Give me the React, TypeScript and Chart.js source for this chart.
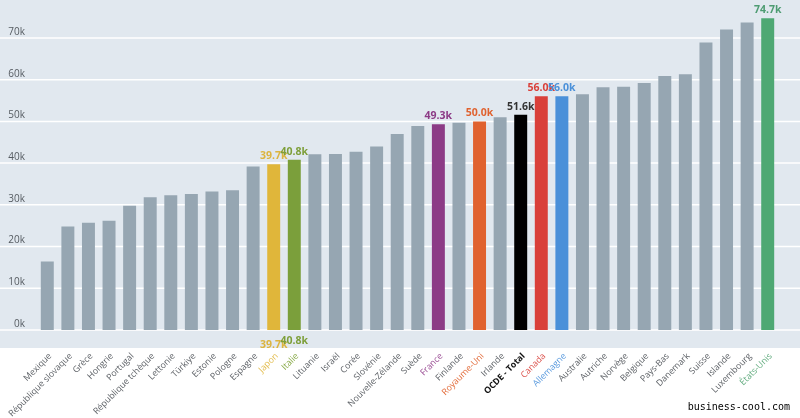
import { useEffect, useRef } from 'react';
import Chart from 'chart.js/auto';

// PIB par habitant (milliers USD)
const countries = [
  'Mexique', 'République slovaque', 'Grèce', 'Hongrie', 'Portugal', 'République tchèque',
  'Lettonie', 'Türkiye', 'Estonie', 'Pologne', 'Espagne', 'Japon', 'Italie', 'Lituanie',
  'Israël', 'Corée', 'Slovénie', 'Nouvelle-Zélande', 'Suède', 'France', 'Finlande',
  'Royaume-Uni', 'Irlande', 'OCDE - Total', 'Canada', 'Allemagne', 'Australie', 'Autriche',
  'Norvège', 'Belgique', 'Pays-Bas', 'Danemark', 'Suisse', 'Islande', 'Luxembourg', 'États-Unis',
];
const values = [
  16.4, 24.8, 25.7, 26.2, 29.8, 31.8, 32.3, 32.6, 33.2, 33.5, 39.2, 39.7, 40.8, 42.1,
  42.2, 42.7, 44.0, 47.0, 48.9, 49.3, 49.7, 50.0, 51.0, 51.6, 56.0, 56.0, 56.5, 58.2,
  58.3, 59.2, 60.9, 61.3, 68.9, 72.0, 73.7, 74.7,
];
const yTicks = [0, 10, 20, 30, 40, 50, 60, 70];

const BAR_GREY = '#96a6b2';
const highlight: Record<string, { bar: string; text: string; label: string }> = {
  'Japon': { bar: '#e0b63a', text: '#dcb43e', label: '#e3bd4f' },
  'Italie': { bar: '#7b9f3b', text: '#7e9f3a', label: '#8aab4a' },
  'France': { bar: '#8c3b86', text: '#8c3b86', label: '#9a4d94' },
  'Royaume-Uni': { bar: '#e0622f', text: '#e0622f', label: '#e36d3c' },
  'OCDE - Total': { bar: '#000000', text: '#333333', label: '#111111' },
  'Canada': { bar: '#d9403a', text: '#d9403a', label: '#dc534d' },
  'Allemagne': { bar: '#4a90d9', text: '#4a90d9', label: '#5a9ade' },
  'États-Unis': { bar: '#4ea873', text: '#4e9c72', label: '#64ad80' },
};
// labels drawn twice in the source picture
const doubled = ['Japon', 'Italie'];

const FONT = '"Open Sans", "Noto Sans", sans-serif';

export default function App() {
  const chartRef = useRef<HTMLCanvasElement>(null);
  const chartInstance = useRef<Chart | null>(null);

  useEffect(() => {
    document.body.style.margin = '0';
    if (!chartRef.current) return;
    const ctx = chartRef.current.getContext('2d');
    if (!ctx) return;

    if (chartInstance.current) {
      chartInstance.current.destroy();
    }

    const backdrop = {
      id: 'backdrop',
      beforeDraw(chart: any) {
        const { ctx: c, chartArea, width, height, scales } = chart;
        c.save();
        c.fillStyle = '#ffffff';
        c.fillRect(0, 0, width, height);
        c.fillStyle = '#e1e8ef';
        c.fillRect(0, 0, width, chartArea.bottom + 18);
        c.strokeStyle = '#ffffff';
        c.lineWidth = 1.5;
        c.fillStyle = '#555b61';
        c.font = `10px ${FONT}`;
        c.textAlign = 'right';
        c.textBaseline = 'middle';
        yTicks.forEach((t) => {
          const y = scales.y.getPixelForValue(t);
          c.beginPath();
          c.moveTo(0, y);
          c.lineTo(width, y);
          c.stroke();
          c.fillText(`${t}k`, 25, y - 6);
        });
        c.restore();
      },
      afterDatasetsDraw(chart: any) {
        const { ctx: c, width, height } = chart;
        const meta = chart.getDatasetMeta(0);
        c.save();
        c.font = `bold 10.5px ${FONT}`;
        c.textAlign = 'center';
        c.textBaseline = 'middle';
        countries.forEach((name, i) => {
          const h = highlight[name];
          if (!h) return;
          const bar = meta.data[i];
          const text = `${values[i].toFixed(1)}k`;
          c.fillStyle = h.text;
          c.fillText(text, bar.x, bar.y - 8);
          if (doubled.includes(name)) {
            c.fillText(text, bar.x, bar.y - 8 + 189);
          }
        });
        c.font = '10px "DejaVu Sans Mono", monospace';
        c.fillStyle = '#000000';
        c.textAlign = 'right';
        c.textBaseline = 'alphabetic';
        c.fillText('business-cool.com', width - 10, height - 8);
        c.restore();
      },
    };

    chartInstance.current = new Chart(ctx, {
      type: 'bar',
      data: {
        labels: countries,
        datasets: [{
          data: values,
          backgroundColor: countries.map((n) => (highlight[n] ? highlight[n].bar : BAR_GREY)),
          barPercentage: 0.63,
          categoryPercentage: 1,
          borderWidth: 0,
        }],
      },
      options: {
        responsive: true,
        maintainAspectRatio: false,
        animation: false,
        layout: { padding: { left: 37, right: 22, top: 0, bottom: 0 } },
        plugins: {
          legend: { display: false },
          tooltip: { enabled: false },
          title: { display: false },
        },
        scales: {
          y: {
            display: false,
            min: 0,
            max: 79.1,
          },
          x: {
            grid: { display: false, drawTicks: false },
            border: { display: false },
            afterFit: (scale: any) => { scale.height = 88; },
            ticks: {
              autoSkip: false,
              maxRotation: 45,
              minRotation: 45,
              padding: 21,
              labelOffset: 3,
              color: (c: any) => {
                const h = highlight[countries[c.index]];
                return h ? h.label : '#5f6368';
              },
              font: (c: any) => ({
                family: FONT,
                size: 8.8,
                weight: countries[c.index] === 'OCDE - Total' ? 'bold' : 'normal',
              }),
            },
          },
        },
      },
      plugins: [backdrop],
    });

    return () => {
      if (chartInstance.current) {
        chartInstance.current.destroy();
        chartInstance.current = null;
      }
    };
  }, []);

  return (
    <div style={{ position: 'relative', width: 800, height: 418 }}>
      <canvas ref={chartRef}></canvas>
    </div>
  );
}
